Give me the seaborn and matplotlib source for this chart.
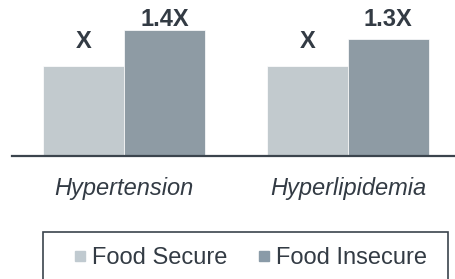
import pandas as pd
import matplotlib.pyplot as plt
import seaborn as sns
from matplotlib.lines import Line2D
from matplotlib.patches import Rectangle

conditions = ['Hypertension', 'Hyperlipidemia']
groups = ['Food Secure', 'Food Insecure']
secure_vals = [1.0, 1.0]
insecure_vals = [1.4, 1.3]
secure_labels = ['X', 'X']
insecure_labels = ['1.4X', '1.3X']

light = '#c0cad0'
dark = '#8a9ba8'
text_col = '#333b44'

df = pd.DataFrame({
    'condition': conditions * 2,
    'group': [groups[0]] * 2 + [groups[1]] * 2,
    'value': secure_vals + insecure_vals,
})

sns.set_style('white')
plt.rcParams['font.family'] = ['Liberation Sans', 'DejaVu Sans']

fig = plt.figure(figsize=(4.56, 2.79), dpi=100)
ax = fig.add_axes([12 / 456, 1 - 156 / 279, 444 / 456, 156 / 279])

sns.barplot(data=df, x='condition', y='value', hue='group', order=conditions,
            hue_order=groups, palette=[light, dark], width=0.72,
            edgecolor='white', linewidth=0.5, ax=ax, legend=False)

ax.set_xlim(-0.5, 1.482)
ax.set_ylim(0, 156 / 90)
ax.set_xlabel('')
ax.set_ylabel('')
ax.set_yticks([])
ax.tick_params(axis='x', length=0, pad=15, labelsize=17, labelcolor=text_col)
for t in ax.get_xticklabels():
    t.set_fontstyle('italic')

for s in ['top', 'left', 'right']:
    ax.spines[s].set_visible(False)
ax.spines['bottom'].set_color('#3b444d')
ax.spines['bottom'].set_linewidth(1.6)

# value labels
for bars, labs, yfrac in [(ax.containers[0], secure_labels, 0.692),
                          (ax.containers[1], insecure_labels, 0.833)]:
    for b, lab in zip(bars, labs):
        ax.text(b.get_x() + b.get_width() / 2, yfrac, lab,
                transform=ax.get_xaxis_transform(), ha='center', va='baseline',
                fontsize=17, fontweight='bold', color=text_col)

# legend
handles = [Line2D([], [], marker='s', ls='', color=c, markersize=7.5) for c in [light, dark]]
fig.legend(handles, groups, ncol=2, loc='center left',
           bbox_to_anchor=(73 / 456, 1 - 258 / 279), frameon=False,
           fontsize=17, handlelength=0.6, handletextpad=0.2,
           columnspacing=1.27, labelcolor=text_col, borderpad=0,
           borderaxespad=0)
fig.patches.append(Rectangle((43 / 456, -0.05), 405 / 456, 0.05 + 1 - 232 / 279,
                             transform=fig.transFigure, fill=False,
                             edgecolor='#3b444d', linewidth=1.2))

fig.savefig('out.png', dpi=100)
